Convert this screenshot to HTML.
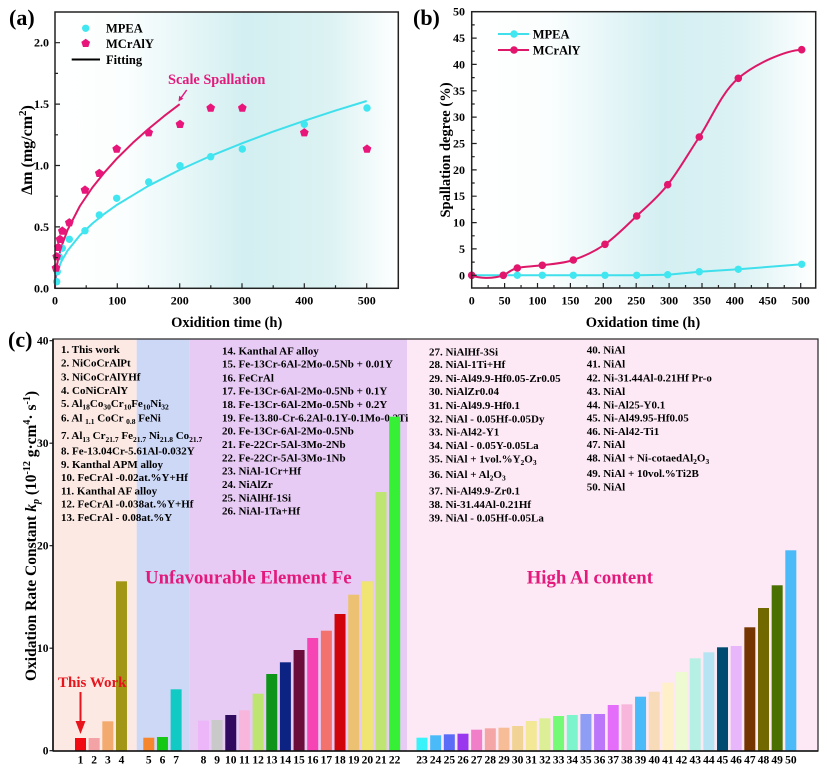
<!DOCTYPE html>
<html><head><meta charset="utf-8"><style>
html,body{margin:0;padding:0;background:#fff;}
svg{display:block;font-family:"Liberation Serif","DejaVu Serif",serif;font-weight:bold;}
</style></head><body>
<svg width="827" height="770" viewBox="0 0 827 770" xmlns="http://www.w3.org/2000/svg">
<defs>
<linearGradient id="ga" x1="0" x2="1" y1="0" y2="0">
<stop offset="0" stop-color="#fff"/><stop offset="0.2" stop-color="#fbfefe"/><stop offset="0.55" stop-color="#d3eff1"/><stop offset="0.8" stop-color="#dcf2f3"/><stop offset="1" stop-color="#fff"/>
</linearGradient>
<linearGradient id="gb" x1="0" x2="1" y1="0" y2="0">
<stop offset="0" stop-color="#fff"/><stop offset="0.22" stop-color="#fbfefe"/><stop offset="0.55" stop-color="#d4eff2"/><stop offset="0.78" stop-color="#dcf2f4"/><stop offset="1" stop-color="#fff"/>
</linearGradient>
<path id="pent" d="M0,-4.6 L4.37,-1.42 L2.7,3.72 L-2.7,3.72 L-4.37,-1.42Z" fill="#e8167a"/>
</defs>

<!-- ============ Panel (a) ============ -->
<rect x="55" y="12" width="343.3" height="276.3" fill="url(#ga)"/>
<text x="9" y="25" font-size="22">(a)</text>
<!-- fits -->
<path d="M55,288.3 L55.16,284.1 L55.6,279.9 L56.2,276.5 L58.1,269.6 L61.2,261.8 L67.5,250.8 L79.9,235.4 L92.4,223.5 L104.9,213.4 L117.3,204.6 L148.5,185.8 L179.7,169.9 L210.8,155.9 L242,143.3 L273.2,131.6 L304.3,120.8 L335.5,110.6 L366.7,101" fill="none" stroke="#3fe0ec" stroke-width="2" stroke-linejoin="round"/>
<path d="M55,288.3 L55.16,281.7 L55.6,275.3 L56.2,269.9 L58.1,259.2 L61.2,247.2 L67.5,230.1 L79.9,206 L92.4,187.5 L104.9,171.9 L117.3,158.1 L132.9,142.8 L148.5,128.9 L164.1,116.1 L179.7,104.2" fill="none" stroke="#dd1868" stroke-width="2" stroke-linejoin="round"/>
<!-- MPEA points -->
<g fill="#40e6f0">
<circle cx="56.7" cy="281.7" r="3.7"/><circle cx="57.3" cy="271.7" r="3.7"/><circle cx="59.3" cy="256.7" r="3.7"/><circle cx="62.3" cy="248.3" r="3.7"/><circle cx="69.3" cy="239.3" r="3.7"/><circle cx="85" cy="230.7" r="3.7"/><circle cx="99.3" cy="215" r="3.7"/><circle cx="116.7" cy="198.3" r="3.7"/><circle cx="148.7" cy="182" r="3.7"/><circle cx="180" cy="165.7" r="3.7"/><circle cx="210.7" cy="156.7" r="3.7"/><circle cx="242.3" cy="149" r="3.7"/><circle cx="304.3" cy="124.3" r="3.7"/><circle cx="367" cy="108" r="3.7"/>
</g>
<!-- MCrAlY points -->
<use href="#pent" x="56" y="268"/><use href="#pent" x="56.7" y="256.7"/><use href="#pent" x="58.3" y="247.3"/><use href="#pent" x="60" y="239.3"/><use href="#pent" x="62.3" y="231"/><use href="#pent" x="69.3" y="222.7"/><use href="#pent" x="85" y="190"/><use href="#pent" x="99.3" y="173.3"/><use href="#pent" x="116.7" y="149"/><use href="#pent" x="148.7" y="132.7"/><use href="#pent" x="180" y="124.3"/><use href="#pent" x="210.7" y="108"/><use href="#pent" x="242.3" y="108"/><use href="#pent" x="304.3" y="132.7"/><use href="#pent" x="367" y="149"/>
<!-- legend a -->
<circle cx="85.7" cy="28.3" r="3.7" fill="#40e6f0"/>
<text x="106" y="32.5" font-size="12.5">MPEA</text>
<use href="#pent" x="85.7" y="43.3"/>
<text x="106" y="48" font-size="12.5">MCrAlY</text>
<line x1="71.7" y1="59.5" x2="100" y2="59.5" stroke="#000" stroke-width="2"/>
<text x="106" y="64" font-size="12.5">Fitting</text>
<text x="168" y="84" font-size="14.3" fill="#e3197c">Scale Spallation</text>
<line x1="186.7" y1="90" x2="181" y2="98" stroke="#e3197c" stroke-width="1.5"/>
<path d="M178.5,101.5 L179.2,95.8 L183.4,98.8Z" fill="#e3197c"/>
<!-- frame a -->
<rect x="55" y="12" width="343.3" height="276.3" fill="none" stroke="#222" stroke-width="1.5"/>
<g stroke="#222" stroke-width="1.2">
<path d="M117.3,288.3v-5 M179.7,288.3v-5 M242,288.3v-5 M304.3,288.3v-5 M366.7,288.3v-5 M86.2,288.3v-3 M148.5,288.3v-3 M210.8,288.3v-3 M273.2,288.3v-3 M335.5,288.3v-3"/>
<path d="M55,226.9h5 M55,165.5h5 M55,104.1h5 M55,42.7h5 M55,257.6h3 M55,196.2h3 M55,134.8h3 M55,73.4h3"/>
</g>
<g font-size="12" text-anchor="end">
<text x="49" y="292.3">0.0</text><text x="49" y="230.9">0.5</text><text x="49" y="169.5">1.0</text><text x="49" y="108.1">1.5</text><text x="49" y="46.7">2.0</text>
</g>
<g font-size="12" text-anchor="middle">
<text x="55" y="304.5">0</text><text x="117.3" y="304.5">100</text><text x="179.7" y="304.5">200</text><text x="242" y="304.5">300</text><text x="304.3" y="304.5">400</text><text x="366.7" y="304.5">500</text>
</g>
<text x="226.7" y="327" font-size="14.5" text-anchor="middle">Oxidition time (h)</text>
<text transform="translate(32,150) rotate(-90)" font-size="16" text-anchor="middle">Δm (mg/cm<tspan dy="-6" font-size="11">2</tspan><tspan dy="6">)</tspan></text>

<!-- ============ Panel (b) ============ -->
<rect x="471.7" y="11.7" width="344" height="276.3" fill="url(#gb)"/>
<text x="413" y="25" font-size="22">(b)</text>
<polyline points="471.7,275.3 503.3,275.3 517.3,275.3 542.3,275.3 573.3,275.3 605,275.3 636.7,275.3 667.7,274.7 699.3,271.7 738.3,269.3 801.7,264.3" fill="none" stroke="#3fe0ec" stroke-width="2"/>
<path d="M471.7,275.3 C478,278 491,279.5 503.3,275.3 C509,272.4 510.8,269.7 517.3,268 C523.8,266.3 532.97,266.6 542.3,265.3 C551.6,264 562.85,263.5 573.3,260 C583.75,256.5 594.4,251.6 605,244.3 C615.6,237 626.25,225.9 636.7,216 C647.15,206.07 657.27,197.87 667.7,184.7 C678.13,171.53 687.53,154.73 699.3,137 C711.07,119.27 721.23,92.85 738.3,78.3 C755.37,63.75 785,50.5 801.7,49.7" fill="none" stroke="#dd1868" stroke-width="2"/>
<g fill="#40e6f0">
<circle cx="471.7" cy="275.3" r="3.7"/><circle cx="503.3" cy="275.3" r="3.7"/><circle cx="517.3" cy="275.3" r="3.7"/><circle cx="542.3" cy="275.3" r="3.7"/><circle cx="573.3" cy="275.3" r="3.7"/><circle cx="605" cy="275.3" r="3.7"/><circle cx="636.7" cy="275.3" r="3.7"/><circle cx="667.7" cy="274.7" r="3.7"/><circle cx="699.3" cy="271.7" r="3.7"/><circle cx="738.3" cy="269.3" r="3.7"/><circle cx="801.7" cy="264.3" r="3.7"/>
</g>
<g fill="#e3166e">
<circle cx="471.7" cy="275.3" r="3.8"/><circle cx="503.3" cy="275.3" r="3.8"/><circle cx="517.3" cy="268" r="3.8"/><circle cx="542.3" cy="265.3" r="3.8"/><circle cx="573.3" cy="260" r="3.8"/><circle cx="605" cy="244.3" r="3.8"/><circle cx="636.7" cy="216" r="3.8"/><circle cx="667.7" cy="184.7" r="3.8"/><circle cx="699.3" cy="137" r="3.8"/><circle cx="738.3" cy="78.3" r="3.8"/><circle cx="801.7" cy="49.7" r="3.8"/>
</g>
<!-- legend b -->
<line x1="498" y1="34" x2="529" y2="34" stroke="#3fe0ec" stroke-width="2"/>
<circle cx="514" cy="34" r="3.7" fill="#40e6f0"/>
<text x="532.7" y="38.5" font-size="12.5">MPEA</text>
<line x1="498" y1="50" x2="529" y2="50" stroke="#dd1868" stroke-width="2"/>
<circle cx="514" cy="50" r="3.8" fill="#e3166e"/>
<text x="532.7" y="54.5" font-size="12.5">MCrAlY</text>
<!-- frame b -->
<rect x="471.7" y="11.7" width="344" height="276.3" fill="none" stroke="#222" stroke-width="1.5"/>
<g stroke="#222" stroke-width="1.2">
<path d="M504.6,288v-5 M537.5,288v-5 M570.4,288v-5 M603.3,288v-5 M636.2,288v-5 M669.1,288v-5 M702,288v-5 M734.9,288v-5 M767.8,288v-5 M800.7,288v-5 M488.15,288v-3 M521.05,288v-3 M553.95,288v-3 M586.85,288v-3 M619.75,288v-3 M652.65,288v-3 M685.55,288v-3 M718.45,288v-3 M751.35,288v-3 M784.25,288v-3"/>
<path d="M471.7,275.3h5 M471.7,248.9h5 M471.7,222.6h5 M471.7,196.2h5 M471.7,169.9h5 M471.7,143.5h5 M471.7,117.1h5 M471.7,90.8h5 M471.7,64.4h5 M471.7,38.1h5 M471.7,262.1h3 M471.7,235.8h3 M471.7,209.4h3 M471.7,183h3 M471.7,156.7h3 M471.7,130.3h3 M471.7,104h3 M471.7,77.6h3 M471.7,51.2h3 M471.7,24.9h3"/>
</g>
<g font-size="12" text-anchor="end">
<text x="465" y="279.3">0</text><text x="465" y="252.9">5</text><text x="465" y="226.6">10</text><text x="465" y="200.2">15</text><text x="465" y="173.9">20</text><text x="465" y="147.5">25</text><text x="465" y="121.1">30</text><text x="465" y="94.8">35</text><text x="465" y="68.4">40</text><text x="465" y="42.1">45</text><text x="465" y="15.7">50</text>
</g>
<g font-size="12" text-anchor="middle">
<text x="471.7" y="304.5">0</text><text x="504.6" y="304.5">50</text><text x="537.5" y="304.5">100</text><text x="570.4" y="304.5">150</text><text x="603.3" y="304.5">200</text><text x="636.2" y="304.5">250</text><text x="669.1" y="304.5">300</text><text x="702" y="304.5">350</text><text x="734.9" y="304.5">400</text><text x="767.8" y="304.5">450</text><text x="800.7" y="304.5">500</text>
</g>
<text x="643" y="327" font-size="14.5" text-anchor="middle">Oxidation time (h)</text>
<text transform="translate(450,150) rotate(-90)" font-size="14.5" text-anchor="middle">Spallation degree (%)</text>

<!-- ============ Panel (c) ============ -->
<rect x="53" y="339" width="83.7" height="412" fill="#fce9e3"/>
<rect x="136.7" y="339" width="52.6" height="412" fill="#cdd8f7"/>
<rect x="189.3" y="339" width="217.7" height="412" fill="#e7cbf4"/>
<rect x="407" y="339" width="411" height="412" fill="#fde9f5"/>
<text x="8" y="347" font-size="22">(c)</text>

<g font-size="11">
<text x="61" y="353">1. This work</text>
<text x="61" y="366.5">2. NiCoCrAlPt</text>
<text x="61" y="380.5">3. NiCoCrAlYHf</text>
<text x="61" y="394">4. CoNiCrAlY</text>
<text x="61" y="407">5. Al<tspan dy="2.5" font-size="7.5">18</tspan><tspan dy="-2.5">Co</tspan><tspan dy="2.5" font-size="7.5">30</tspan><tspan dy="-2.5">Cr</tspan><tspan dy="2.5" font-size="7.5">10</tspan><tspan dy="-2.5">Fe</tspan><tspan dy="2.5" font-size="7.5">10</tspan><tspan dy="-2.5">Ni</tspan><tspan dy="2.5" font-size="7.5">32</tspan></text>
<text x="61" y="421.5">6. Al <tspan dy="2.5" font-size="7.5">1.1</tspan><tspan dy="-2.5"> CoCr </tspan><tspan dy="2.5" font-size="7.5">0.8</tspan><tspan dy="-2.5"> FeNi</tspan></text>
<text x="61" y="439">7. Al<tspan dy="3" font-size="7.5">13</tspan><tspan dy="-3"> Cr</tspan><tspan dy="3" font-size="7.5">21.7</tspan><tspan dy="-3"> Fe</tspan><tspan dy="3" font-size="7.5">21.7</tspan><tspan dy="-3"> Ni</tspan><tspan dy="3" font-size="7.5">21.8</tspan><tspan dy="-3"> Co</tspan><tspan dy="3" font-size="7.5">21.7</tspan></text>
<text x="61" y="454.5">8. Fe-13.04Cr-5.61Al-0.032Y</text>
<text x="61" y="468">9. Kanthal APM alloy</text>
<text x="61" y="481">10. FeCrAl -0.02at.%Y+Hf</text>
<text x="61" y="494.5">11. Kanthal AF alloy</text>
<text x="61" y="507.5">12. FeCrAl -0.038at.%Y+Hf</text>
<text x="61" y="521">13. FeCrAl - 0.08at.%Y</text>

<text x="222" y="354.7">14. Kanthal AF alloy</text>
<text x="222" y="367.3">15. Fe-13Cr-6Al-2Mo-0.5Nb + 0.01Y</text>
<text x="222" y="381.3">16. FeCrAl</text>
<text x="222" y="394.7">17. Fe-13Cr-6Al-2Mo-0.5Nb + 0.1Y</text>
<text x="222" y="408">18. Fe-13Cr-6Al-2Mo-0.5Nb + 0.2Y</text>
<text x="222" y="421.3">19. Fe-13.80-Cr-6.2Al-0.1Y-0.1Mo-0.2Ti</text>
<text x="222" y="434.7">20. Fe-13Cr-6Al-2Mo-0.5Nb</text>
<text x="222" y="448">21. Fe-22Cr-5Al-3Mo-2Nb</text>
<text x="222" y="461.3">22. Fe-22Cr-5Al-3Mo-1Nb</text>
<text x="222" y="474.7">23. NiAl-1Cr+Hf</text>
<text x="222" y="488">24. NiAlZr</text>
<text x="222" y="501.3">25. NiAlHf-1Si</text>
<text x="222" y="514.7">26. NiAl-1Ta+Hf</text>

<text x="429" y="355.5">27. NiAlHf-3Si</text>
<text x="429" y="368">28. NiAl-1Ti+Hf</text>
<text x="429" y="382">29. Ni-Al49.9-Hf0.05-Zr0.05</text>
<text x="429" y="395">30. NiAlZr0.04</text>
<text x="429" y="409">31. Ni-Al49.9-Hf0.1</text>
<text x="429" y="422.3">32. NiAl - 0.05Hf-0.05Dy</text>
<text x="429" y="435.7">33. Ni-Al42-Y1</text>
<text x="429" y="449">34. NiAl - 0.05Y-0.05La</text>
<text x="429" y="462.5">35. NiAl + 1vol.%Y<tspan dy="2.5" font-size="7.5">2</tspan><tspan dy="-2.5">O</tspan><tspan dy="2.5" font-size="7.5">3</tspan></text>
<text x="429" y="478">36. NiAl + Al<tspan dy="2.5" font-size="7.5">2</tspan><tspan dy="-2.5">O</tspan><tspan dy="2.5" font-size="7.5">3</tspan></text>
<text x="429" y="494.5">37. Ni-Al49.9-Zr0.1</text>
<text x="429" y="508">38. Ni-31.44Al-0.21Hf</text>
<text x="429" y="521.3">39. NiAl - 0.05Hf-0.05La</text>

<text x="586.7" y="353.3">40. NiAl</text>
<text x="586.7" y="367.3">41. NiAl</text>
<text x="586.7" y="381.3">42. Ni-31.44Al-0.21Hf  Pr-o</text>
<text x="586.7" y="395">43. NiAl</text>
<text x="586.7" y="408.3">44. Ni-Al25-Y0.1</text>
<text x="586.7" y="421.3">45. Ni-Al49.95-Hf0.05</text>
<text x="586.7" y="435">46. Ni-Al42-Ti1</text>
<text x="586.7" y="448">47. NiAl</text>
<text x="586.7" y="461.5">48. NiAl + Ni-cotaedAl<tspan dy="2.5" font-size="7.5">2</tspan><tspan dy="-2.5">O</tspan><tspan dy="2.5" font-size="7.5">3</tspan></text>
<text x="586.7" y="477">49. NiAl + 10vol.%Ti2B</text>
<text x="586.7" y="490.7">50. NiAl</text>
</g>

<text x="145" y="583.5" font-size="18.8" fill="#e3197c">Unfavourable Element Fe</text>
<text x="526.7" y="583.5" font-size="18.8" fill="#e3197c">High Al content</text>

<!-- bars -->
<g>
<rect x="75" y="738" width="11" height="12.7" fill="#f20a12"/>
<rect x="88.66" y="738" width="11" height="12.7" fill="#f3a2a6"/>
<rect x="102.32" y="721.3" width="11" height="29.4" fill="#f2aa6e"/>
<rect x="115.98" y="581.3" width="11" height="169.4" fill="#a29616"/>
<rect x="143.3" y="737.7" width="11" height="13" fill="#f5862e"/>
<rect x="156.96" y="737" width="11" height="13.7" fill="#14c814"/>
<rect x="170.62" y="689.3" width="11" height="61.4" fill="#12cac4"/>
<rect x="197.94" y="720.7" width="11" height="30" fill="#ecb6f8"/>
<rect x="211.6" y="720" width="11" height="30.7" fill="#c9c9c9"/>
<rect x="225.26" y="715" width="11" height="35.7" fill="#300a5e"/>
<rect x="238.92" y="710.3" width="11" height="40.4" fill="#f8b6dc"/>
<rect x="252.58" y="693.7" width="11" height="57" fill="#bee472"/>
<rect x="266.24" y="674" width="11" height="76.7" fill="#0e9418"/>
<rect x="279.9" y="662.3" width="11" height="88.4" fill="#0d2384"/>
<rect x="293.56" y="650" width="11" height="100.7" fill="#6a0d3a"/>
<rect x="307.22" y="638" width="11" height="112.7" fill="#f744b4"/>
<rect x="320.88" y="630.7" width="11" height="120" fill="#f4726e"/>
<rect x="334.54" y="614" width="11" height="136.7" fill="#d0020a"/>
<rect x="348.2" y="594.7" width="11" height="156" fill="#ecc272"/>
<rect x="361.86" y="581.3" width="11" height="169.4" fill="#f0e472"/>
<rect x="375.52" y="492" width="11" height="258.7" fill="#bee472"/>
<rect x="389.18" y="416.7" width="11" height="334" fill="#36f036"/>
<rect x="416.5" y="737.7" width="11" height="13" fill="#38f4fa"/>
<rect x="430.16" y="735.3" width="11" height="15.4" fill="#4abaf8"/>
<rect x="443.82" y="734.3" width="11" height="16.4" fill="#5b6cf6"/>
<rect x="457.48" y="733.7" width="11" height="17" fill="#9b36ef"/>
<rect x="471.14" y="729.7" width="11" height="21" fill="#f17ec8"/>
<rect x="484.8" y="728.3" width="11" height="22.4" fill="#f4a6a6"/>
<rect x="498.46" y="727.7" width="11" height="23" fill="#f7bd96"/>
<rect x="512.12" y="726" width="11" height="24.7" fill="#f2d396"/>
<rect x="525.78" y="721" width="11" height="29.7" fill="#f2e896"/>
<rect x="539.44" y="718.3" width="11" height="32.4" fill="#dcee96"/>
<rect x="553.1" y="716" width="11" height="34.7" fill="#74fa74"/>
<rect x="566.76" y="715" width="11" height="35.7" fill="#7ef4cc"/>
<rect x="580.42" y="714" width="11" height="36.7" fill="#8e9ef4"/>
<rect x="594.08" y="714" width="11" height="36.7" fill="#bc76fa"/>
<rect x="607.74" y="705" width="11" height="45.7" fill="#e46efa"/>
<rect x="621.4" y="704.3" width="11" height="46.4" fill="#f8b6dc"/>
<rect x="635.06" y="696.7" width="11" height="54" fill="#4abaf8"/>
<rect x="648.72" y="691.7" width="11" height="59" fill="#f8dcba"/>
<rect x="662.38" y="682.7" width="11" height="68" fill="#fff0ca"/>
<rect x="676.04" y="672" width="11" height="78.7" fill="#eefad2"/>
<rect x="689.7" y="658.3" width="11" height="92.4" fill="#b6f0e4"/>
<rect x="703.36" y="652.3" width="11" height="98.4" fill="#b6e4f2"/>
<rect x="717.02" y="647.3" width="11" height="103.4" fill="#004a72"/>
<rect x="730.68" y="646" width="11" height="104.7" fill="#e8b6fa"/>
<rect x="744.34" y="627.3" width="11" height="123.4" fill="#743500"/>
<rect x="758" y="608" width="11" height="142.7" fill="#716900"/>
<rect x="771.66" y="585.3" width="11" height="165.4" fill="#497000"/>
<rect x="785.32" y="550.3" width="11" height="200.4" fill="#4abaf8"/>
</g>

<text x="58" y="687" font-size="15" fill="#e8141c">This Work</text>
<line x1="80.5" y1="692" x2="80.5" y2="724" stroke="#e8141c" stroke-width="2"/>
<path d="M75.5,721 L85.5,721 L80.5,734Z" fill="#e8141c"/>

<!-- frame c -->
<rect x="53" y="339" width="765" height="412" fill="none" stroke="#333" stroke-width="1.3"/>
<line x1="53" y1="751" x2="818" y2="751" stroke="#111" stroke-width="1.6"/>
<line x1="53" y1="339" x2="53" y2="751" stroke="#111" stroke-width="1.6"/>
<g stroke="#111" stroke-width="1.2">
<path d="M49.5,750.7h3.5 M49.5,648.2h3.5 M49.5,545.7h3.5 M49.5,443.2h3.5 M49.5,340.7h3.5"/>
</g>
<g font-size="11.5" text-anchor="end">
<text x="48.5" y="754.7">0</text><text x="48.5" y="652.2">10</text><text x="48.5" y="549.7">20</text><text x="48.5" y="447.2">30</text><text x="48.5" y="344.7">40</text>
</g>
<text transform="translate(36,536) rotate(-90)" font-size="15.5" text-anchor="middle">Oxidation Rate Constant <tspan font-style="italic">k</tspan><tspan dy="3" font-size="10" font-style="italic">p</tspan><tspan dy="-3"> (10</tspan><tspan dy="-6" font-size="10">-12</tspan><tspan dy="6"> g·cm</tspan><tspan dy="-6" font-size="10">4</tspan><tspan dy="6">· s</tspan><tspan dy="-6" font-size="10">-1</tspan><tspan dy="6">)</tspan></text>

<g font-size="11.5" text-anchor="middle">
<text x="80.5" y="763.5">1</text><text x="94.16" y="763.5">2</text><text x="107.82" y="763.5">3</text><text x="121.48" y="763.5">4</text>
<text x="148.8" y="763.5">5</text><text x="162.46" y="763.5">6</text><text x="176.12" y="763.5">7</text>
<text x="203.44" y="763.5">8</text><text x="217.1" y="763.5">9</text><text x="230.76" y="763.5">10</text><text x="244.42" y="763.5">11</text><text x="258.08" y="763.5">12</text><text x="271.74" y="763.5">13</text><text x="285.4" y="763.5">14</text><text x="299.06" y="763.5">15</text><text x="312.72" y="763.5">16</text><text x="326.38" y="763.5">17</text><text x="340.04" y="763.5">18</text><text x="353.7" y="763.5">19</text><text x="367.36" y="763.5">20</text><text x="381.02" y="763.5">21</text><text x="394.68" y="763.5">22</text>
<text x="422" y="763.5">23</text><text x="435.66" y="763.5">24</text><text x="449.32" y="763.5">25</text><text x="462.98" y="763.5">26</text><text x="476.64" y="763.5">27</text><text x="490.3" y="763.5">28</text><text x="503.96" y="763.5">29</text><text x="517.62" y="763.5">30</text><text x="531.28" y="763.5">31</text><text x="544.94" y="763.5">32</text><text x="558.6" y="763.5">33</text><text x="572.26" y="763.5">34</text><text x="585.92" y="763.5">35</text><text x="599.58" y="763.5">36</text><text x="613.24" y="763.5">37</text><text x="626.9" y="763.5">38</text><text x="640.56" y="763.5">39</text><text x="654.22" y="763.5">40</text><text x="667.88" y="763.5">41</text><text x="681.54" y="763.5">42</text><text x="695.2" y="763.5">43</text><text x="708.86" y="763.5">44</text><text x="722.52" y="763.5">45</text><text x="736.18" y="763.5">46</text><text x="749.84" y="763.5">47</text><text x="763.5" y="763.5">48</text><text x="777.16" y="763.5">49</text><text x="790.82" y="763.5">50</text>
</g>
</svg>
</body></html>
